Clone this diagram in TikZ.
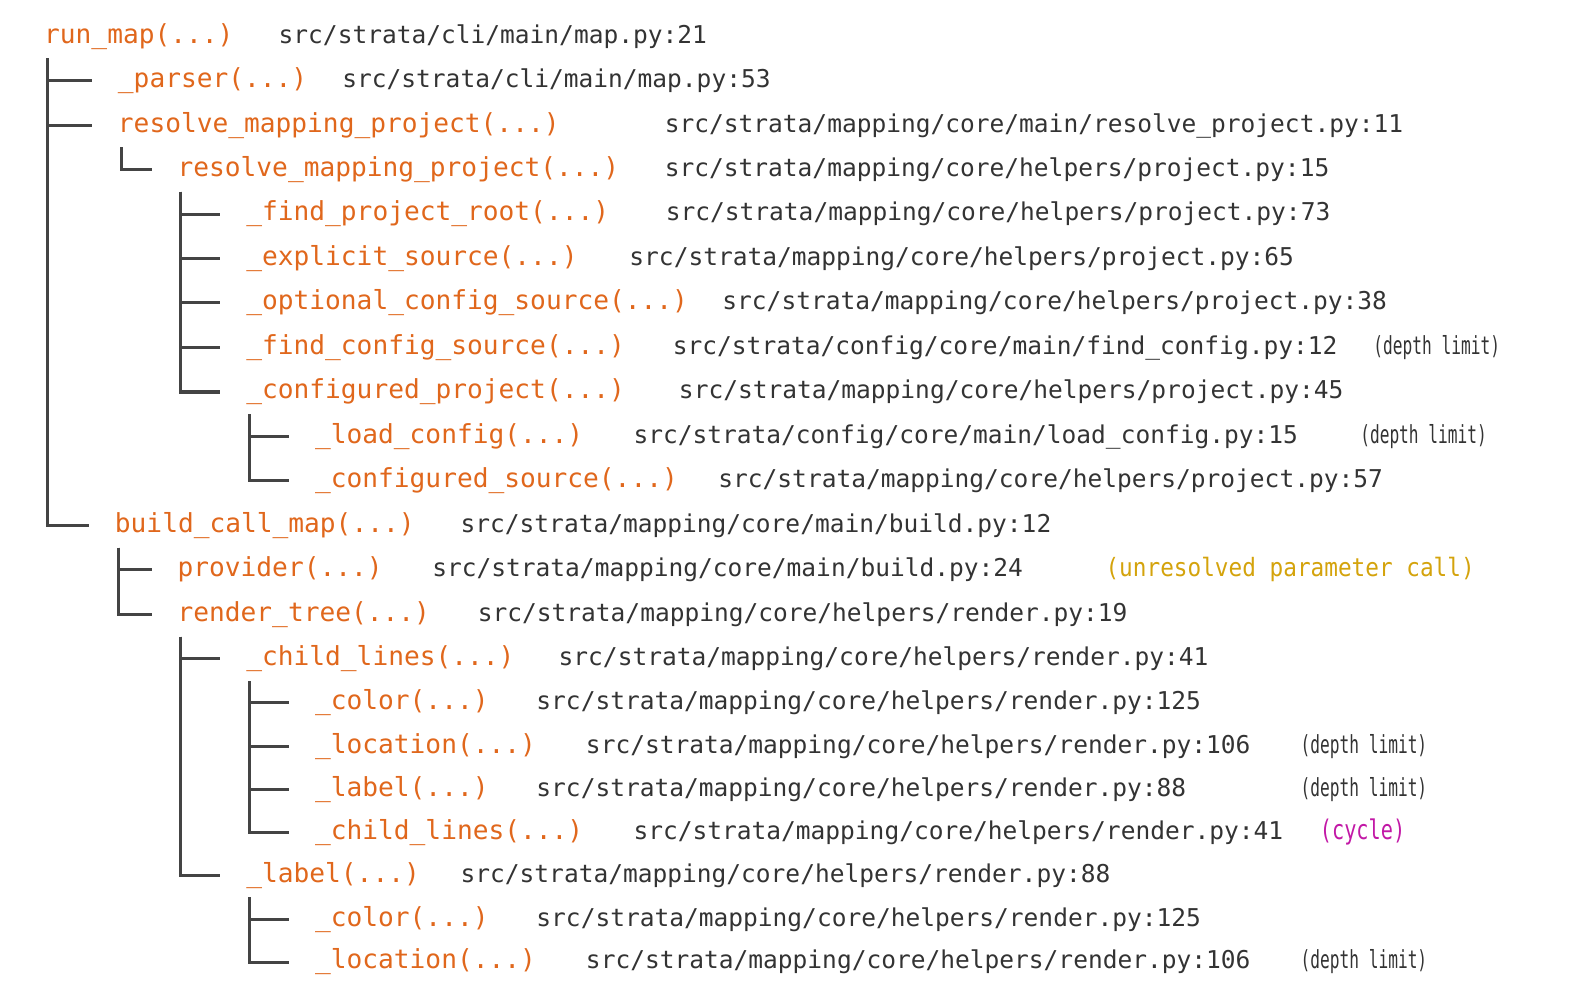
\documentclass[tikz,border=0pt]{standalone}
\usepackage{fontspec}
\newfontfamily\codefont{DejaVu Sans Mono}
\newfontfamily\notefont[FakeStretch=0.65]{DejaVu Sans Mono}
\newfontfamily\narrowmono[FakeStretch=0.75]{DejaVu Sans Mono}
\newfontfamily\warnmono[FakeStretch=0.9]{DejaVu Sans Mono}
\usepackage{xcolor}
\definecolor{cFunc}{HTML}{E0671C}
\definecolor{cPath}{HTML}{333333}
\definecolor{cLine}{HTML}{444444}
\definecolor{cWarn}{HTML}{D4A30C}
\definecolor{cCycle}{HTML}{C218A6}
\usepackage{tikz}
\usetikzlibrary{calc}
\tikzset{
  node-func/.style={anchor=mid west,inner sep=0pt,text=cFunc,
    font=\codefont\fontsize{7.37}{9}\selectfont},
  node-path/.style={anchor=mid west,inner sep=0pt,text=cPath,
    font=\codefont\fontsize{6.9}{8}\selectfont},
  node-depth/.style={anchor=mid west,inner sep=0pt,text=cPath,
    font=\notefont\fontsize{7}{8}\selectfont},
  node-warn/.style={anchor=mid west,inner sep=0pt,text=cWarn,
    font=\warnmono\fontsize{7.1}{8}\selectfont},
  node-cycle/.style={anchor=mid west,inner sep=0pt,text=cCycle,
    font=\narrowmono\fontsize{7.6}{9}\selectfont},
  tree-line/.style={draw=cLine,line width=0.85pt},
}

\begin{document}
\begin{tikzpicture}[x=0.01cm,y=-0.01cm]
  \useasboundingbox (0,0) rectangle (1568,981);
  % call names
  \node[node-func] (r0)  at (43,35)  {run\_map(...)};
  \node[node-func] (r1)  at (116,79) {\_parser(...)};
  \node[node-func] (r2)  at (116,123) {resolve\_mapping\_project(...)};
  \node[node-func] (r3)  at (175,167) {resolve\_mapping\_project(...)};
  \node[node-func] (r4)  at (243,211) {\_find\_project\_root(...)};
  \node[node-func] (r5)  at (243,255) {\_explicit\_source(...)};
  \node[node-func] (r6)  at (243,299) {\_optional\_config\_source(...)};
  \node[node-func] (r7)  at (243,343) {\_find\_config\_source(...)};
  \node[node-func] (r8)  at (243,387) {\_configured\_project(...)};
  \node[node-func] (r9)  at (311,431) {\_load\_config(...)};
  \node[node-func] (r10) at (311,475) {\_configured\_source(...)};
  \node[node-func] (r11) at (113,519) {build\_call\_map(...)};
  \node[node-func] (r12) at (175,563) {provider(...)};
  \node[node-func] (r13) at (175,607) {render\_tree(...)};
  \node[node-func] (r14) at (243,651) {\_child\_lines(...)};
  \node[node-func] (r15) at (311,694) {\_color(...)};
  \node[node-func] (r16) at (311,738) {\_location(...)};
  \node[node-func] (r17) at (311,780) {\_label(...)};
  \node[node-func] (r18) at (311,823) {\_child\_lines(...)};
  \node[node-func] (r19) at (243,865) {\_label(...)};
  \node[node-func] (r20) at (311,909) {\_color(...)};
  \node[node-func] (r21) at (311,951) {\_location(...)};
  % source locations
  \node[node-path] (p0)  at (275,35)  {src/strata/cli/main/map.py:21};
  \node[node-path] (p1)  at (338,79)  {src/strata/cli/main/map.py:53};
  \node[node-path] (p2)  at (657,123) {src/strata/mapping/core/main/resolve\_project.py:11};
  \node[node-path] (p3)  at (657,167) {src/strata/mapping/core/helpers/project.py:15};
  \node[node-path] (p4)  at (658,211) {src/strata/mapping/core/helpers/project.py:73};
  \node[node-path] (p5)  at (622,255) {src/strata/mapping/core/helpers/project.py:65};
  \node[node-path] (p6)  at (714,299) {src/strata/mapping/core/helpers/project.py:38};
  \node[node-path] (p7)  at (665,343) {src/strata/config/core/main/find\_config.py:12};
  \node[node-path] (p8)  at (671,387) {src/strata/mapping/core/helpers/project.py:45};
  \node[node-path] (p9)  at (626,431) {src/strata/config/core/main/load\_config.py:15};
  \node[node-path] (p10) at (710,475) {src/strata/mapping/core/helpers/project.py:57};
  \node[node-path] (p11) at (455,519) {src/strata/mapping/core/main/build.py:12};
  \node[node-path] (p12) at (427,563) {src/strata/mapping/core/main/build.py:24};
  \node[node-path] (p13) at (472,607) {src/strata/mapping/core/helpers/render.py:19};
  \node[node-path] (p14) at (552,651) {src/strata/mapping/core/helpers/render.py:41};
  \node[node-path] (p15) at (530,694) {src/strata/mapping/core/helpers/render.py:125};
  \node[node-path] (p16) at (579,738) {src/strata/mapping/core/helpers/render.py:106};
  \node[node-path] (p17) at (530,780) {src/strata/mapping/core/helpers/render.py:88};
  \node[node-path] (p18) at (626,823) {src/strata/mapping/core/helpers/render.py:41};
  \node[node-path] (p19) at (455,865) {src/strata/mapping/core/helpers/render.py:88};
  \node[node-path] (p20) at (530,909) {src/strata/mapping/core/helpers/render.py:125};
  \node[node-path] (p21) at (579,951) {src/strata/mapping/core/helpers/render.py:106};
  % remarks
  \node[node-depth] (n7)  at (1358,343) {(depth limit)};
  \node[node-depth] (n9)  at (1345,431) {(depth limit)};
  \node[node-warn]  (n12) at (1093,563) {(unresolved parameter call)};
  \node[node-depth] (n16) at (1286,738) {(depth limit)};
  \node[node-depth] (n17) at (1286,780) {(depth limit)};
  \node[node-cycle] (n18) at (1305,823) {(cycle)};
  \node[node-depth] (n21) at (1286,951) {(depth limit)};
  % tree branches
  \foreach \parent/\kid in {r0/r1,r0/r2,r0/r11,r2/r3,r3/r4,r3/r5,r3/r6,r3/r7,r3/r8,
      r8/r9,r8/r10,r11/r12,r11/r13,r13/r14,r13/r19,r14/r15,r14/r16,r14/r17,
      r14/r18,r19/r20,r19/r21}
    \draw[tree-line] ($(\parent.west)+(4,22)$) |- ($(\kid.west)+(-25,0)$);
\end{tikzpicture}
\end{document}
